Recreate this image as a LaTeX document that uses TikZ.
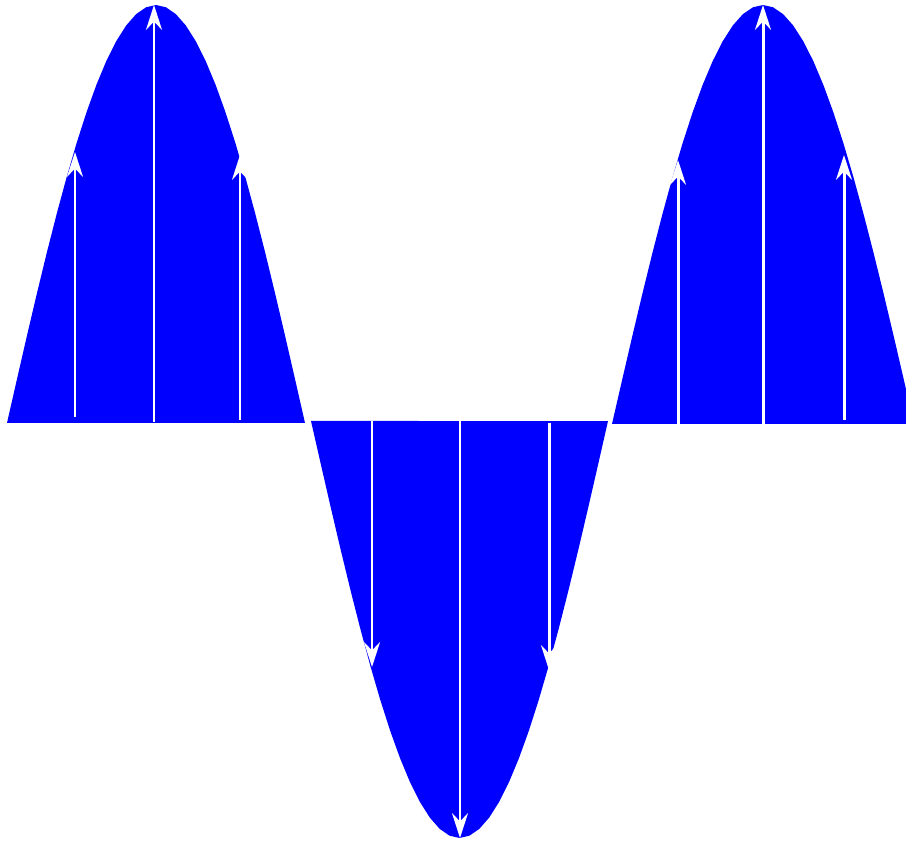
\documentclass[tikz,border=0pt]{standalone}
\usetikzlibrary{arrows.meta}
\definecolor{WaveBlue}{HTML}{0000FF}

\begin{document}
\begin{tikzpicture}[
  x=0.02cm, y=0.02cm,
  line cap=butt, line join=round,
  >={Stealth[length=14pt, width=9pt, inset=4.5pt]},
  field/.style={white, line width=1.7pt, ->}
]

% === Frame of the picture ===
\useasboundingbox (0,0) rectangle (906,841);

% === Sine lobes: start/end/baseline/amplitude ===
\foreach \xa/\xb/\yb/\amp in {
    7/305/418/418,
  311/608/420/-417,
  612/914/417/419%
}{
  \pgfmathsetmacro{\kk}{180/(\xb-\xa)}
  \fill[WaveBlue]
    plot[domain=\xa:\xb, samples=31, variable=\t]
      (\t, {\yb + \amp*sin(\kk*(\t-\xa))})
    -- cycle;
}

% === Field arrows inside the lobes ===
\foreach \x/\ya/\yb in {
   75/424/689, 154/419/836, 240/421/686,
  372/420/174, 460/420/3,   549/418/171,
  678/417/681, 763/417/836, 844/421/686%
}{
  \draw[field] (\x,\ya) -- (\x,\yb);
}

\end{tikzpicture}
\end{document}
